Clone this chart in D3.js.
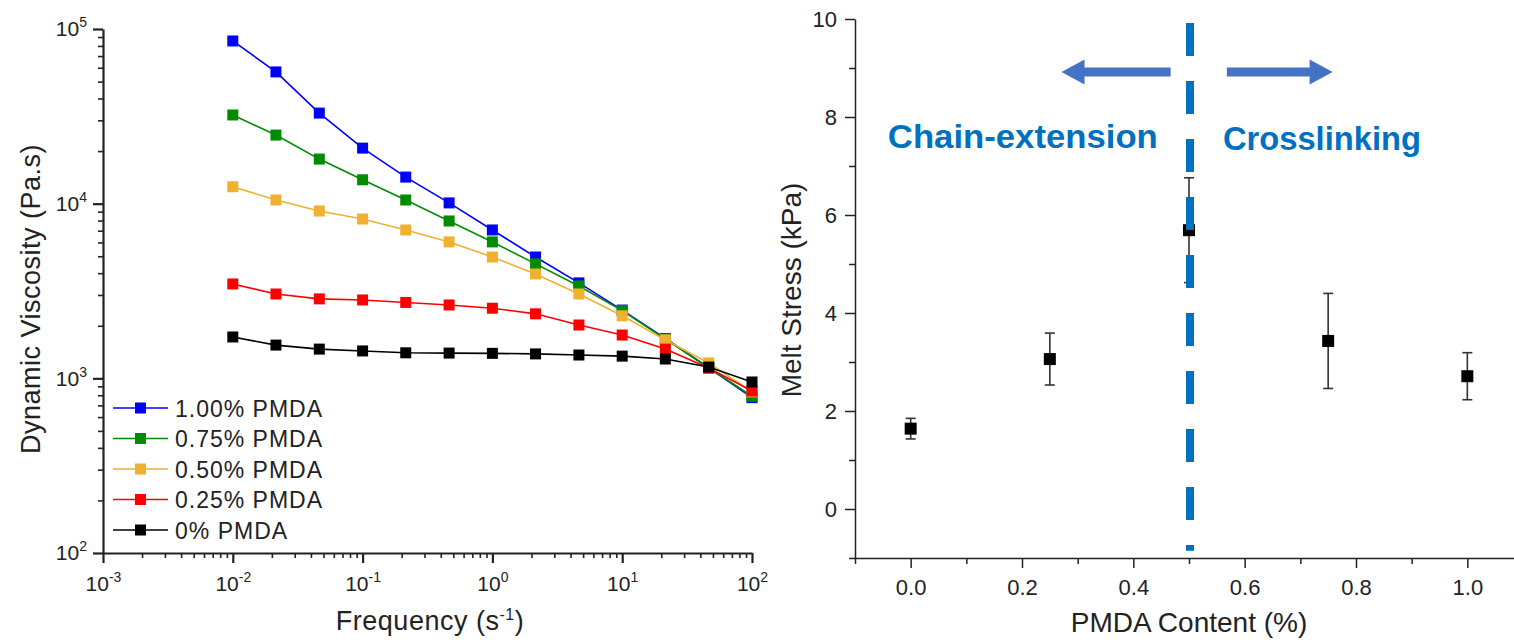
<!DOCTYPE html>
<html><head><meta charset="utf-8">
<script src="https://cdn.jsdelivr.net/npm/d3@7"></script>
<style>
body{margin:0;background:#fff;}
svg{display:block;}
text{font-family:"Liberation Sans", Arial, sans-serif;fill:#222;}
</style></head><body>
<svg id="c" width="1514" height="640"></svg>
<script>
// ---------- Left panel data (dynamic viscosity vs frequency) ----------
const freq = [0.01, 0.0215, 0.0464, 0.1, 0.215, 0.464, 1, 2.15, 4.64, 10, 21.5, 46.4, 100];
const visc100 = [85400, 56800, 33000, 20800, 14200, 10100, 7070, 4950, 3520, 2460, 1690, 1150, 775];
const visc075 = [32200, 24700, 18000, 13700, 10500, 7960, 6040, 4520, 3380, 2440, 1680, 1150, 790];
const visc050 = [12500, 10500, 9080, 8170, 7070, 6040, 4950, 3960, 3040, 2280, 1660, 1225, 836];
const visc025 = [3470, 3040, 2850, 2810, 2720, 2630, 2520, 2340, 2020, 1770, 1470, 1145, 847];
const visc000 = [1725, 1550, 1470, 1435, 1400, 1395, 1390, 1380, 1360, 1340, 1290, 1160, 953];
const seriesNames = ["1.00% PMDA", "0.75% PMDA", "0.50% PMDA", "0.25% PMDA", "0% PMDA"];
const seriesColors = ["#0000ff", "#008c00", "#f0b030", "#ff0000", "#000000"];
const seriesValues = [visc100, visc075, visc050, visc025, visc000];
const xTicksL = [1e-3, 1e-2, 1e-1, 1e0, 1e1, 1e2];
const yTicksL = [1e2, 1e3, 1e4, 1e5];

// ---------- Right panel data (melt stress vs PMDA content) ----------
const pmda = [0, 0.25, 0.5, 0.75, 1.0];
const meltStress = [1.64, 3.06, 5.69, 3.43, 2.71];
const meltErr = [0.21, 0.53, 1.07, 0.97, 0.48];
const xTicksR = [0, 0.2, 0.4, 0.6, 0.8, 1.0];
const xMinorR = [-0.1, 0.1, 0.3, 0.5, 0.7, 0.9];
const yTicksR = [0, 2, 4, 6, 8, 10];
const yMinorR = [-1, 1, 3, 5, 7, 9];
// annotations (data units)
const dividerX = 0.5, dividerY = [-0.85, 9.92];
const arrowY = 8.92;
const arrowLeft = [0.467, 0.271];
const arrowRight = [0.568, 0.758];
const labelLeft = {text: "Chain-extension", x: -0.041, y: 7.37, len: 270};
const labelRight = {text: "Crosslinking", x: 0.561, y: 7.33, len: 198};

const svg = d3.select("#c");

// ================= LEFT =================
const xL = d3.scaleLog().domain([1e-3, 1e2]).range([103, 752]);
const yL = d3.scaleLog().domain([1e2, 1e5]).range([553, 29]);
function logMinor(dom) {
  const out = [];
  for (let e = Math.round(Math.log10(dom[0])); e < Math.round(Math.log10(dom[1])); e++)
    for (let m = 2; m <= 9; m++) out.push(m * Math.pow(10, e));
  return out;
}
const gL = svg.append("g");
function styleAxis(g, w) {
  g.select(".domain").attr("stroke", "#222").attr("stroke-width", w);
  g.selectAll(".tick line").attr("stroke", "#222").attr("stroke-width", w);
}
function expLabels(g) {
  g.selectAll(".tick text").each(function (d) {
    const t = d3.select(this);
    t.text("");
    t.append("tspan").text("10");
    t.append("tspan").attr("dy", -9).attr("font-size", 14).text(Math.round(Math.log10(d)));
  });
}
// minor
gL.append("g").attr("transform", `translate(0,${yL.range()[0]})`)
  .call(d3.axisBottom(xL).tickValues(logMinor(xL.domain())).tickSize(5).tickFormat("").tickSizeOuter(0))
  .call(g => { g.select(".domain").remove(); styleAxis(g, 1.6); });
gL.append("g").attr("transform", `translate(${xL.range()[0]},0)`)
  .call(d3.axisLeft(yL).tickValues(logMinor(yL.domain())).tickSize(5).tickFormat("").tickSizeOuter(0))
  .call(g => { g.select(".domain").remove(); styleAxis(g, 1.6); });
// major
const axXL = gL.append("g").attr("transform", `translate(0,${yL.range()[0]})`)
  .call(d3.axisBottom(xL).tickValues(xTicksL).tickSize(10).tickPadding(13).tickSizeOuter(0).tickFormat(d => d))
  .call(g => styleAxis(g, 2.2));
axXL.selectAll(".tick text").attr("font-size", 21).attr("font-family", "Liberation Sans").attr("fill", "#333");
expLabels(axXL);
const axYL = gL.append("g").attr("transform", `translate(${xL.range()[0]},0)`)
  .call(d3.axisLeft(yL).tickValues(yTicksL).tickSize(10).tickPadding(6).tickSizeOuter(0).tickFormat(d => d))
  .call(g => styleAxis(g, 2.2));
axYL.selectAll(".tick text").attr("font-size", 21).attr("font-family", "Liberation Sans").attr("fill", "#333");
expLabels(axYL);

// series
const line = d3.line().x((d, i) => xL(freq[i])).y(d => yL(d));
seriesValues.forEach((vals, k) => {
  const g = gL.append("g");
  g.append("path").attr("d", line(vals)).attr("fill", "none")
    .attr("stroke", seriesColors[k]).attr("stroke-width", 1.6);
  g.selectAll("rect").data(vals).join("rect")
    .attr("x", (d, i) => xL(freq[i]) - 5.5).attr("y", d => yL(d) - 5.5)
    .attr("width", 11).attr("height", 11).attr("fill", seriesColors[k]);
});

// legend
const leg = gL.append("g").attr("transform", "translate(113,408)");
seriesNames.forEach((n, k) => {
  const r = leg.append("g").attr("transform", `translate(0,${k * 30.5})`);
  r.append("line").attr("x1", 0).attr("x2", 55).attr("stroke", seriesColors[k]).attr("stroke-width", 1.6);
  r.append("rect").attr("x", 22).attr("y", -5.5).attr("width", 11).attr("height", 11).attr("fill", seriesColors[k]);
  r.append("text").attr("x", 62).attr("y", 8.5).attr("font-size", 23).attr("letter-spacing", 1).attr("fill", "#333").text(n);
});

// titles
gL.append("text").attr("transform", "translate(40,299) rotate(-90)").attr("text-anchor", "middle")
  .attr("font-size", 27).attr("letter-spacing", 0.5).attr("fill", "#333").text("Dynamic Viscosity (Pa.s)");
const ft = gL.append("text").attr("x", 430).attr("y", 630).attr("text-anchor", "middle")
  .attr("font-size", 27).attr("letter-spacing", 0.5).attr("fill", "#333");
ft.append("tspan").text("Frequency (s");
ft.append("tspan").attr("dy", -10).attr("font-size", 16).text("-1");
ft.append("tspan").attr("dy", 10).text(")");

// ================= RIGHT =================
const xR = d3.scaleLinear().domain([-0.1, 1.1]).range([855, 1523]);
const yR = d3.scaleLinear().domain([-1, 10]).range([558, 19]);
const gR = svg.append("g");
gR.append("g").attr("transform", `translate(0,${yR.range()[0]})`)
  .call(d3.axisBottom(xR).tickValues(xMinorR).tickSize(6).tickFormat("").tickSizeOuter(0))
  .call(g => { g.select(".domain").remove(); styleAxis(g, 1.5); });
gR.append("g").attr("transform", `translate(${xR.range()[0]},0)`)
  .call(d3.axisLeft(yR).tickValues(yMinorR).tickSize(6).tickFormat("").tickSizeOuter(0))
  .call(g => { g.select(".domain").remove(); styleAxis(g, 1.5); });
const axXR = gR.append("g").attr("transform", `translate(0,${yR.range()[0]})`)
  .call(d3.axisBottom(xR).tickValues(xTicksR).tickSize(10).tickPadding(11).tickSizeOuter(0).tickFormat(d3.format(".1f")))
  .call(g => styleAxis(g, 1.5));
axXR.selectAll(".tick text").attr("font-size", 22).attr("font-family", "Liberation Sans").attr("fill", "#333");
const axYR = gR.append("g").attr("transform", `translate(${xR.range()[0]},0)`)
  .call(d3.axisLeft(yR).tickValues(yTicksR).tickSize(10).tickPadding(8).tickSizeOuter(0).tickFormat(d3.format("d")))
  .call(g => styleAxis(g, 1.5));
axYR.selectAll(".tick text").attr("font-size", 22).attr("font-family", "Liberation Sans").attr("fill", "#333");

// error bars + markers
const eb = gR.append("g").attr("stroke", "#333").attr("stroke-width", 1.6);
pmda.forEach((p, i) => {
  const cx = xR(p), y0 = yR(meltStress[i] - meltErr[i]), y1 = yR(meltStress[i] + meltErr[i]);
  eb.append("line").attr("x1", cx).attr("x2", cx).attr("y1", y0).attr("y2", y1);
  eb.append("line").attr("x1", cx - 5).attr("x2", cx + 5).attr("y1", y0).attr("y2", y0);
  eb.append("line").attr("x1", cx - 5).attr("x2", cx + 5).attr("y1", y1).attr("y2", y1);
});

gR.selectAll("rect.m").data(pmda).join("rect").attr("class", "m")
  .attr("x", (d) => xR(d) - 6).attr("y", (d, i) => yR(meltStress[i]) - 6)
  .attr("width", 12).attr("height", 12).attr("fill", "#000");
// divider drawn over the markers, as in the reference
gR.append("line").attr("x1", xR(dividerX) + 1).attr("x2", xR(dividerX) + 1)
  .attr("y1", yR(dividerY[1])).attr("y2", yR(dividerY[0]))
  .attr("stroke", "#0070c0").attr("stroke-width", 8).attr("stroke-dasharray", "33,25");

// arrows
function arrow(x0, x1, y) {
  const dir = Math.sign(x1 - x0), hl = 23, hw = 12.5, sw = 4.5;
  const xb = x1 - dir * hl;
  return `M${x0},${y - sw}L${xb},${y - sw}L${xb},${y - hw}L${x1},${y}L${xb},${y + hw}L${xb},${y + sw}L${x0},${y + sw}Z`;
}
gR.append("path").attr("d", arrow(xR(arrowLeft[0]), xR(arrowLeft[1]), yR(arrowY))).attr("fill", "#4472c4");
gR.append("path").attr("d", arrow(xR(arrowRight[0]), xR(arrowRight[1]), yR(arrowY))).attr("fill", "#4472c4");

// labels
[labelLeft, labelRight].forEach(l => {
  gR.append("text").attr("x", xR(l.x)).attr("y", yR(l.y)).attr("font-family", "Lato")
    .attr("font-weight", "bold").attr("font-size", 33)
    .attr("textLength", l.len).attr("lengthAdjust", "spacingAndGlyphs")
    .style("fill", "#0070c0").text(l.text);
});

// titles
gR.append("text").attr("transform", "translate(801,290) rotate(-90)").attr("text-anchor", "middle")
  .attr("font-size", 28).attr("fill", "#333").text("Melt Stress (kPa)");
gR.append("text").attr("x", 1189).attr("y", 632).attr("text-anchor", "middle")
  .attr("font-size", 28).attr("fill", "#333").text("PMDA Content (%)");
</script>
</body></html>
